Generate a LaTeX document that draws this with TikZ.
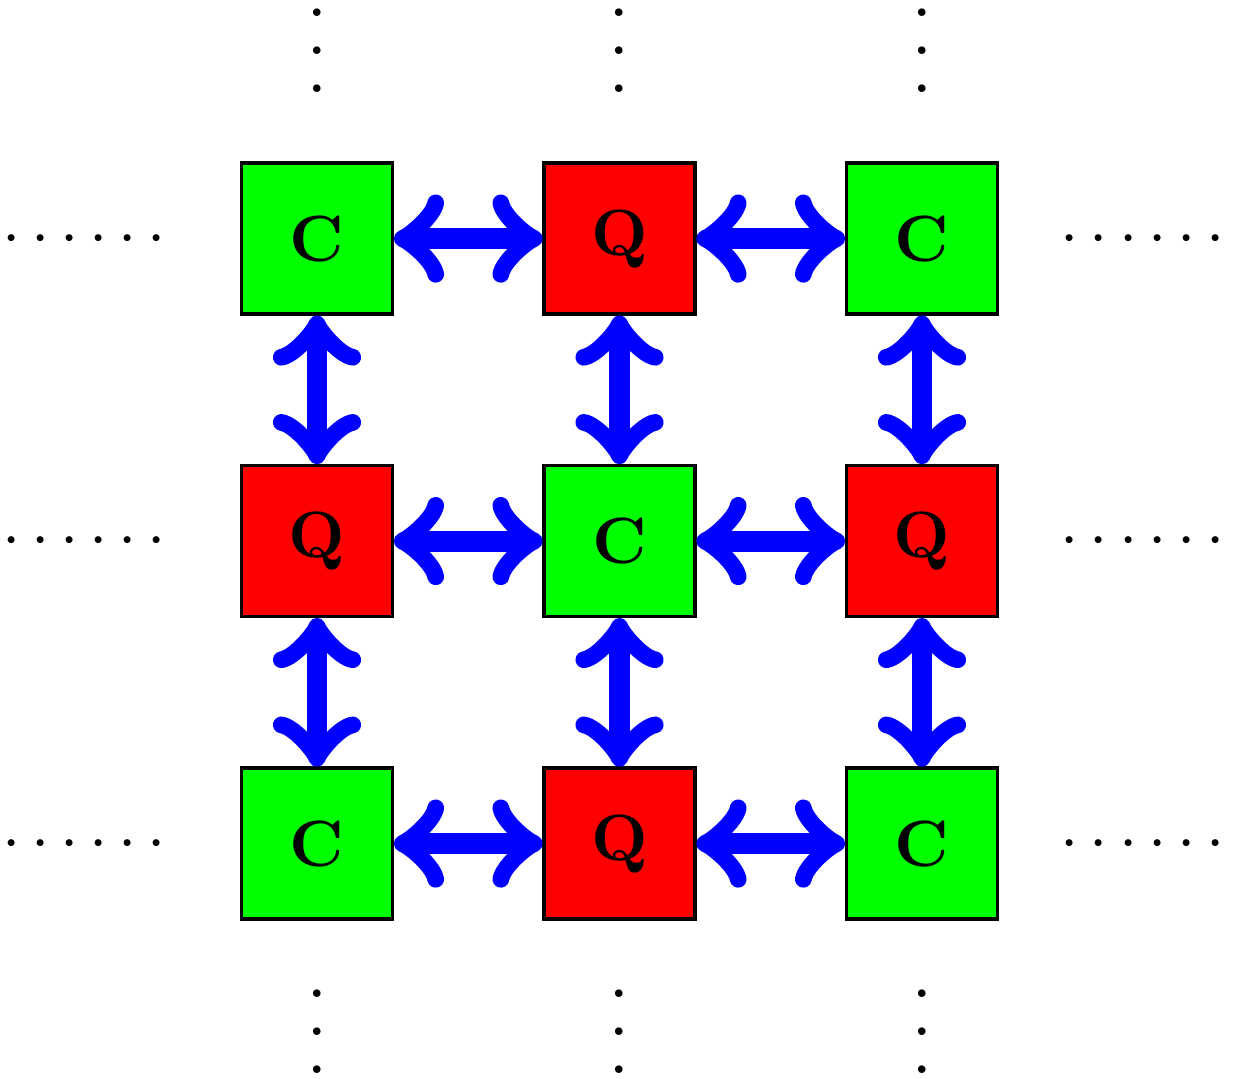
\documentclass[tikz,border=0pt]{standalone}
\usetikzlibrary{positioning}
\tikzset{
  cell/.style={
      rectangle,
      draw,
      scale=0.69,
      minimum size=23.04pt,
      inner sep=0pt,
      font=\normalsize\bfseries
    },
  cls/.style={
      cell,
      fill=green
    },
  qnt/.style={
      cell,
      fill=red
    },
  link/.style={
      <->,
      blue,
      line width=2.2pt
    },
  vdots/.style={
      font=\scriptsize,
      inner sep=0pt,
      anchor=base
    },
  hdots/.style={
      scale=0.69,
      inner sep=0pt,
      anchor=base
    }
}
\begin{document}
\begin{tikzpicture}[x=31.84pt, y=31.84pt]
  \useasboundingbox (-65.21pt,-56.53pt) rectangle (65.0pt,56.95pt);
  \node[cls] (c1) at (-1,1) {C}; \node[qnt] (q1) at (0,1) {Q}; \node[cls] (c2) at (1,1) {C};
  \node[qnt] (q2) at (-1,0) {Q}; \node[cls] (c3) at (0,0) {C}; \node[qnt] (q3) at (1,0) {Q};
  \node[cls] (c4) at (-1,-1) {C}; \node[qnt] (q4) at (0,-1) {Q}; \node[cls] (c5) at (1,-1) {C};
  % rows
  \draw[link] (c1) -- (q1); \draw[link] (q1) -- (c2);
  \draw[link] (q2) -- (c3); \draw[link] (c3) -- (q3);
  \draw[link] (c4) -- (q4); \draw[link] (q4) -- (c5);
  % columns
  \draw[link] (c1) -- (q2); \draw[link] (q2) -- (c4);
  \draw[link] (q1) -- (c3); \draw[link] (c3) -- (q4);
  \draw[link] (c2) -- (q3); \draw[link] (q3) -- (c5);
  % dots
  \node[vdots] (vt1) at (-1,1.482) {$\vdots$};
  \node[vdots] (vt2) at (0,1.482) {$\vdots$};
  \node[vdots] (vt3) at (1,1.482) {$\vdots$};
  \node[vdots] (vb1) at (-1,-1.760) {$\vdots$};
  \node[vdots] (vb2) at (0,-1.760) {$\vdots$};
  \node[vdots] (vb3) at (1,-1.760) {$\vdots$};
  \node[hdots] (hl1) at (-1.769,0.949) {$\cdots\cdots$};
  \node[hdots] (hl2) at (-1.769,-0.051) {$\cdots\cdots$};
  \node[hdots] (hl3) at (-1.769,-1.051) {$\cdots\cdots$};
  \node[hdots] (hr1) at (1.730,0.949) {$\cdots\cdots$};
  \node[hdots] (hr2) at (1.730,-0.051) {$\cdots\cdots$};
  \node[hdots] (hr3) at (1.730,-1.051) {$\cdots\cdots$};
\end{tikzpicture}
\end{document}
